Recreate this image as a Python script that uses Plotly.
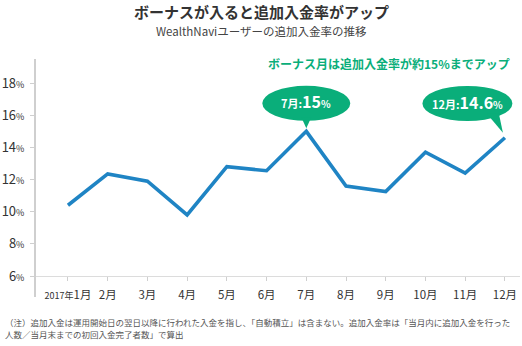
import plotly.graph_objects as go

# ---- data ----
months = list(range(1, 13))
month_labels = ["1月", "2月", "3月", "4月", "5月", "6月", "7月", "8月", "9月", "10月", "11月", "12月"]
year_label = "2017年"
rates = [10.4, 12.35, 11.9, 9.8, 12.8, 12.55, 15.0, 11.6, 11.25, 13.7, 12.4, 14.6]
y_ticks = [6, 8, 10, 12, 14, 16, 18]

title = "ボーナスが入ると追加入金率がアップ"
subtitle = "WealthNaviユーザーの追加入金率の推移"
highlight = "ボーナス月は追加入金率が約15%までアップ"
note_lines = ["（注）追加入金は運用開始日の翌日以降に行われた入金を指し、「自動積立」は含まない。追加入金率は「当月内に追加入金を行った",
              "人数／当月末までの初回入金完了者数」で算出"]
callout_months = [7, 12]

# ---- style ----
FONT = "Noto Sans CJK JP"
BLUE = "#1f84c4"
GREEN = "#0aae7a"
TEXT = "#333333"
AXIS = "#cfcfcf"

W, H = 522, 346
L, R, T, B = 33, 2, 59, 70
pw, ph = W - L - R, H - T - B


def px_x(v):
    return (v - L) / pw


def px_y(v):
    return 1 - (v - T) / ph


xt = []
for m, lab in zip(months, month_labels):
    if m == 1:
        xt.append(f"<span style='font-size:9px'>{year_label}</span>{lab}")
    else:
        xt.append(lab)
yt = [f"{v}<span style='font-size:9px'>%</span>" for v in y_ticks]

fig = go.Figure()
fig.add_trace(go.Scatter(x=months, y=rates, mode="lines",
                         line=dict(color=BLUE, width=3.6), hoverinfo="skip"))

shapes = []
annotations = []

# y axis line (extends below x axis)
shapes.append(dict(type="line", xref="paper", yref="paper", x0=0, x1=0, y0=px_y(297), y1=1,
                   line=dict(color=AXIS, width=2)))

# callout bubbles anchored to the data points
bubble_geom = {
    7: dict(cx=0, cy=28, rx=44, ry=17.5, tail="M -5,14 L 0,3 L 5,14 Z", tx=0, ty=30),
    12: dict(cx=-37.5, cy=34.3, rx=45, ry=17.5, tail="M -18,24 L -2,5 L -6,24 Z", tx=-37.5, ty=36),
}
for m in callout_months:
    v = rates[months.index(m)]
    g = bubble_geom[m]
    shapes.append(dict(type="circle", xref="x", yref="y", xsizemode="pixel", ysizemode="pixel",
                       xanchor=m, yanchor=v,
                       x0=g["cx"] - g["rx"], x1=g["cx"] + g["rx"],
                       y0=g["cy"] - g["ry"], y1=g["cy"] + g["ry"],
                       fillcolor=GREEN, line=dict(width=0), layer="above"))
    shapes.append(dict(type="path", xref="x", yref="y", xsizemode="pixel", ysizemode="pixel",
                       xanchor=m, yanchor=v, path=g["tail"],
                       fillcolor=GREEN, line=dict(width=0), layer="above"))
    val = f"{v:g}"
    annotations.append(dict(
        x=m, y=v, xref="x", yref="y", showarrow=False, xshift=g["tx"], yshift=g["ty"],
        text=f"<b><span style='font-size:11px'>{month_labels[m-1]}:</span>"
             f"<span style='font-size:16px'>{val}</span>"
             f"<span style='font-size:10px'>%</span></b>",
        font=dict(family=FONT, color="white", size=14)))

# titles
annotations.append(dict(x=px_x(260), y=px_y(12), xref="paper", yref="paper", showarrow=False,
                        yanchor="middle",
                        text=f"<b>{title}</b>", font=dict(family=FONT, size=15, color=TEXT)))
annotations.append(dict(x=px_x(260), y=px_y(31), xref="paper", yref="paper", showarrow=False,
                        yanchor="middle",
                        text=subtitle, font=dict(family=FONT, size=11.5, color="#444444")))
annotations.append(dict(x=px_x(512), y=px_y(63), xref="paper", yref="paper", showarrow=False,
                        xanchor="right", yanchor="middle", text=f"<b>{highlight}</b>",
                        font=dict(family=FONT, size=12, color=GREEN)))
for i, line in enumerate(note_lines):
    annotations.append(dict(x=px_x(1), y=px_y(322 + i * 12), xref="paper", yref="paper",
                            showarrow=False, xanchor="left", yanchor="middle", text=line,
                            font=dict(family=FONT, size=8.5, color="#555555")))

fig.update_layout(
    width=W, height=H,
    margin=dict(l=L, r=R, t=T, b=B),
    paper_bgcolor="white", plot_bgcolor="white",
    showlegend=False,
    font=dict(family=FONT, color=TEXT),
    shapes=shapes, annotations=annotations,
    xaxis=dict(range=[0.17, 12.38], tickmode="array", tickvals=months, ticktext=xt,
               showgrid=False, zeroline=False, showline=True, linecolor="#dcdcdc", linewidth=1,
               ticks="outside", ticklen=4, tickcolor=AXIS, tickwidth=1,
               tickfont=dict(family=FONT, size=11.5, color=TEXT), ticklabelstandoff=4),
    yaxis=dict(range=[6, 19.5], tickmode="array", tickvals=y_ticks, ticktext=yt,
               showgrid=False, zeroline=False, showline=False,
               ticks="outside", ticklen=4, tickcolor=AXIS, tickwidth=1,
               tickfont=dict(family=FONT, size=13, color=TEXT), ticklabelstandoff=3),
)

fig.write_html("out.html", config={"displayModeBar": False})
